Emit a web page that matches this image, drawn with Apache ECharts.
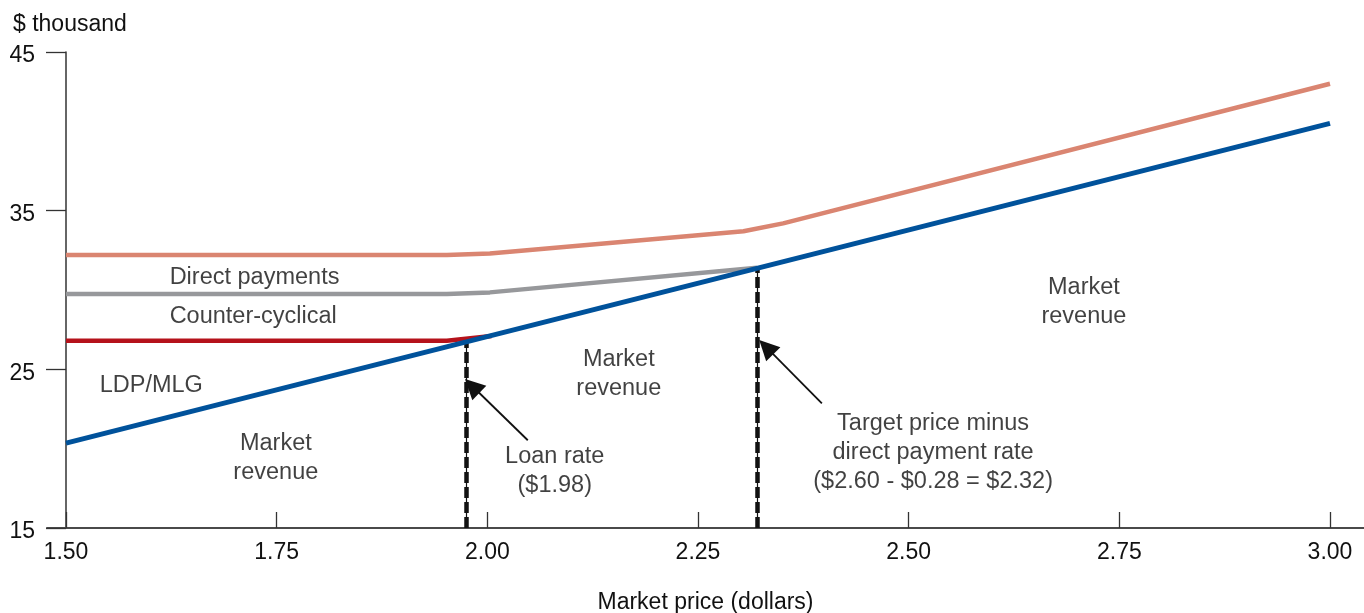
<!DOCTYPE html>
<html>
<head>
<meta charset="utf-8">
<title>Market revenue and program payments</title>
<script src="https://cdn.jsdelivr.net/npm/echarts@6/dist/echarts.min.js"></script>
<style>
  html, body { margin: 0; padding: 0; background: #fff; }
  #chart { width: 1364px; height: 613px; }
</style>
</head>
<body>
<div id="chart"></div>
<script>
// ── Data ────────────────────────────────────────────────────────────────────
// x = market price (dollars), y = revenue ($ thousand)

const marketRevenue   = [[1.5, 20.35], [3.0, 40.5]];
const ldpMlg          = [[1.5, 26.8], [1.952, 26.8], [2.005, 27.1]];
const counterCyclical = [[1.5, 29.75], [1.952, 29.75], [2.003, 29.85], [2.32, 31.4]];
const directPayments  = [[1.5, 32.2], [1.952, 32.2], [2.003, 32.3], [2.304, 33.7], [2.351, 34.2], [3.0, 43.0]];

// Vertical guides: price, and where they meet the market revenue line
const guidePrices = [1.975, 2.32];
const guideTops   = [26.75, 31.36];

// Text in the plot
const lineLabels   = ['Direct payments', 'Counter-cyclical', 'LDP/MLG'];
const lineAnchors  = [[1.623, 30.8], [1.623, 28.35], [1.54, 24.0]];
const areaLabels   = [
  'Market\nrevenue',
  'Loan rate\n($1.98)',
  'Market\nrevenue',
  'Target price minus\ndirect payment rate\n($2.60 - $0.28 = $2.32)',
  'Market\nrevenue',
];
const areaAnchors  = [[1.749, 19.43], [2.08, 18.61], [2.156, 24.69], [2.529, 19.78], [2.708, 29.23]];

// Arrows: [tail, head]
const arrows = [
  [[2.048, 20.53], [1.982, 23.95]],
  [[2.397, 22.86], [2.331, 26.4]],
];

// ── Chart ───────────────────────────────────────────────────────────────────
const INK  = '#111111';
const AXIS = '#333333';
const FONT = "'Liberation Sans', Arial, Helvetica, sans-serif";

const chart = echarts.init(document.getElementById('chart'), null, { renderer: 'canvas' });

const guideCoords = guidePrices.map((p, i) => ({ coords: [[p, 15], [p, guideTops[i]]] }));

chart.setOption({
  animation: false,
  backgroundColor: '#ffffff',
  textStyle: { fontFamily: FONT, color: INK },
  title: {
    text: '$ thousand',
    left: 8,
    top: 8,
    textStyle: { fontFamily: FONT, fontSize: 23, fontWeight: 'normal', color: INK },
  },
  grid: [
    { left: 66, right: 34, top: 52, bottom: 85, outerBoundsMode: 'none' },
    // wider grid only used to draw the full-width x axis line + its name
    { left: 47, right: 0, top: 52, bottom: 85, outerBoundsMode: 'none' },
  ],
  xAxis: [
    {
      type: 'value',
      gridIndex: 0,
      min: 1.5,
      max: 3.0,
      interval: 0.25,
      axisLine: { show: false, onZero: false },
      axisTick: { show: true, inside: true, length: 16, lineStyle: { color: AXIS, width: 1.3 } },
      axisLabel: {
        margin: 13,
        fontSize: 23,
        color: INK,
        fontFamily: FONT,
        formatter: (v) => v.toFixed(2),
      },
      splitLine: { show: false },
    },
    {
      type: 'value',
      gridIndex: 1,
      min: 0,
      max: 1,
      name: 'Market price (dollars)',
      nameLocation: 'middle',
      nameGap: 63,
      nameTextStyle: { fontSize: 23, color: INK, fontFamily: FONT },
      axisLine: { show: true, onZero: false, lineStyle: { color: '#4a4a4a', width: 2 } },
      axisTick: { show: false },
      axisLabel: { show: false },
      splitLine: { show: false },
    },
  ],
  yAxis: [
    {
      type: 'value',
      gridIndex: 0,
      min: 15,
      max: 45,
      interval: 10,
      axisLine: { show: true, onZero: false, lineStyle: { color: AXIS, width: 1.5 } },
      axisTick: { show: true, inside: false, length: 20, lineStyle: { color: AXIS, width: 1.3 } },
      axisLabel: {
        margin: 31,
        fontSize: 23,
        color: INK,
        fontFamily: FONT,
        verticalAlign: 'top',
        lineHeight: 8,
      },
      splitLine: { show: false },
    },
    { type: 'value', gridIndex: 1, show: false, min: 0, max: 1 },
  ],
  series: [
    // dashed guides: thin solid core + thick dashes
    {
      type: 'lines',
      coordinateSystem: 'cartesian2d',
      silent: true,
      z: 1,
      lineStyle: { color: INK, width: 1.2, type: 'solid', opacity: 1 },
      data: guideCoords,
    },
    {
      type: 'lines',
      coordinateSystem: 'cartesian2d',
      silent: true,
      z: 1,
      lineStyle: { color: INK, width: 4.5, type: [11, 4], opacity: 1 },
      data: guideCoords,
    },
    {
      name: 'Direct payments',
      type: 'line',
      data: directPayments,
      symbol: 'none',
      z: 3,
      lineStyle: { color: '#da8571', width: 4.5 },
    },
    {
      name: 'Counter-cyclical',
      type: 'line',
      data: counterCyclical,
      symbol: 'none',
      z: 3,
      lineStyle: { color: '#97989b', width: 4.5 },
    },
    {
      name: 'LDP/MLG',
      type: 'line',
      data: ldpMlg,
      symbol: 'none',
      z: 3,
      lineStyle: { color: '#b5121b', width: 4.5 },
    },
    {
      name: 'Market revenue',
      type: 'line',
      data: marketRevenue,
      symbol: 'none',
      z: 4,
      lineStyle: { color: '#00529b', width: 5 },
    },
    // arrows
    {
      type: 'lines',
      coordinateSystem: 'cartesian2d',
      silent: true,
      z: 5,
      symbol: ['none', 'triangle'],
      symbolSize: 20,
      lineStyle: { color: INK, width: 1.8, opacity: 1 },
      itemStyle: { color: INK },
      data: arrows.map((a) => ({ coords: a })),
    },
    // labels next to the payment lines (left aligned)
    {
      type: 'scatter',
      silent: true,
      symbolSize: 0,
      z: 6,
      data: lineAnchors.map((p, i) => ({ value: p, name: lineLabels[i] })),
      label: {
        show: true,
        position: 'right',
        distance: 0,
        align: 'left',
        fontSize: 23.5,
        color: INK,
        fontFamily: FONT,
        formatter: (p) => p.name,
      },
    },
    // labels inside the regions (centred)
    {
      type: 'scatter',
      silent: true,
      symbolSize: 0,
      z: 6,
      data: areaAnchors.map((p, i) => ({ value: p, name: areaLabels[i] })),
      label: {
        show: true,
        position: 'inside',
        align: 'center',
        verticalAlign: 'middle',
        fontSize: 23.5,
        lineHeight: 29,
        color: INK,
        fontFamily: FONT,
        formatter: (p) => p.name,
      },
    },
  ],
});

window.addEventListener('resize', () => chart.resize());
</script>
</body>
</html>
